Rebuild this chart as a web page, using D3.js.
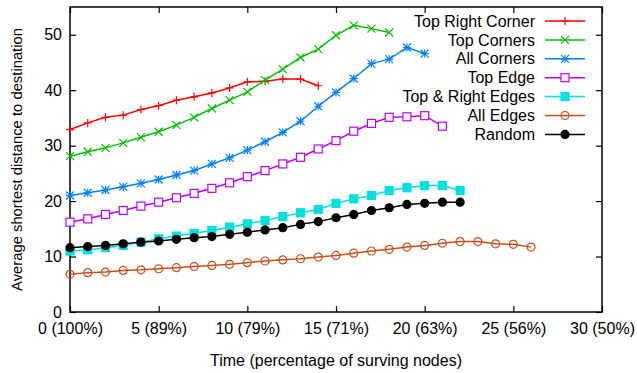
<!DOCTYPE html>
<html>
<head>
<meta charset="utf-8">
<script src="https://cdn.jsdelivr.net/npm/d3@7"></script>
<style>
  body { margin: 0; background: #fff; }
  svg text { font-family: "Liberation Sans", Arial, sans-serif; fill: #000; }
</style>
</head>
<body>
<div id="chart"></div>
<script>
const width = 637;
const height = 373;

// valori (x = 0, 1, 2, ...)
const topRightCorner = [32.9, 34.1, 35.1, 35.5, 36.5, 37.2, 38.2, 38.8, 39.5, 40.4, 41.5, 41.6, 42.0, 42.0, 40.8];
const topCorners = [28.1, 28.9, 29.6, 30.5, 31.5, 32.5, 33.7, 35.1, 36.7, 38.2, 39.7, 41.8, 43.8, 45.9, 47.4, 49.9, 51.7, 51.1, 50.4];
const allCorners = [21.0, 21.5, 22.0, 22.6, 23.2, 23.9, 24.7, 25.5, 26.7, 27.8, 29.2, 30.7, 32.4, 34.4, 37.1, 39.6, 42.1, 44.8, 45.6, 47.7, 46.6];
const topEdge = [16.2, 16.8, 17.6, 18.3, 19.1, 19.8, 20.6, 21.4, 22.3, 23.3, 24.4, 25.5, 26.7, 27.9, 29.4, 30.9, 32.6, 34.0, 35.1, 35.2, 35.4, 33.5];
const topRightEdges = [11.0, 11.2, 11.6, 12.0, 12.6, 13.2, 13.7, 14.2, 14.7, 15.3, 15.9, 16.5, 17.2, 17.9, 18.5, 19.6, 20.4, 21.0, 21.9, 22.4, 22.8, 22.8, 21.9];
const allEdges = [6.8, 7.1, 7.2, 7.5, 7.6, 7.8, 8.0, 8.2, 8.4, 8.6, 8.9, 9.2, 9.4, 9.6, 9.9, 10.2, 10.6, 11.0, 11.3, 11.7, 12.0, 12.4, 12.7, 12.7, 12.3, 12.2, 11.7];
const random = [11.6, 11.8, 12.0, 12.3, 12.6, 12.8, 13.1, 13.4, 13.6, 14.0, 14.4, 14.8, 15.2, 15.8, 16.3, 17.0, 17.6, 18.3, 18.8, 19.4, 19.6, 19.8, 19.8];

const xTicks = [0, 5, 10, 15, 20, 25, 30];
const xTickLabels = ["0 (100%)", "5 (89%)", "10 (79%)", "15 (71%)", "20 (63%)", "25 (56%)", "30 (50%)"];
const yTicks = [0, 10, 20, 30, 40, 50];

const series = [
  { name: "Top Right Corner", values: topRightCorner, color: "#ff0000", marker: "plus" },
  { name: "Top Corners", values: topCorners, color: "#00c000", marker: "cross" },
  { name: "All Corners", values: allCorners, color: "#0080ff", marker: "star" },
  { name: "Top Edge", values: topEdge, color: "#c000ff", marker: "square" },
  { name: "Top & Right Edges", values: topRightEdges, color: "#00e0e0", marker: "fsquare" },
  { name: "All Edges", values: allEdges, color: "#c8501a", marker: "circle" },
  { name: "Random", values: random, color: "#000000", marker: "fcircle" }
];

const margin = { top: 7, right: 35, bottom: 61, left: 70 };
const iw = width - margin.left - margin.right;
const ih = height - margin.top - margin.bottom;

const x = d3.scaleLinear().domain([0, 30]).range([0, iw]);
const y = d3.scaleLinear().domain([0, 55]).range([ih, 0]);

const svg = d3.select("#chart").append("svg")
  .attr("width", width)
  .attr("height", height);

const g = svg.append("g").attr("transform", `translate(${margin.left},${margin.top})`);

// tacche interne su tutti i lati
const tick = 6;
const axisB = g.append("g").attr("transform", `translate(0,${ih})`)
  .call(d3.axisBottom(x).tickValues(xTicks).tickSize(-tick).tickPadding(11)
    .tickFormat((d, i) => xTickLabels[i]));
const axisT = g.append("g")
  .call(d3.axisTop(x).tickValues(xTicks).tickSize(-tick).tickFormat(""));
const axisL = g.append("g")
  .call(d3.axisLeft(y).tickValues(yTicks).tickSize(-tick).tickPadding(8));
const axisR = g.append("g").attr("transform", `translate(${iw},0)`)
  .call(d3.axisRight(y).tickValues(yTicks).tickSize(-tick).tickFormat(""));

[axisB, axisT, axisL, axisR].forEach(a => {
  a.select(".domain").remove();
  a.selectAll("line").attr("stroke", "#000").attr("stroke-width", 1.2);
  a.selectAll("text").style("font-size", "16px").attr("fill", "#000");
});

g.append("rect")
  .attr("width", iw).attr("height", ih)
  .attr("fill", "none").attr("stroke", "#000").attr("stroke-width", 1.5);

// simboli stile gnuplot
function drawMarker(sel, type, color) {
  const s = 4;
  if (type === "plus" || type === "star") {
    sel.append("path").attr("d", `M${-s},0H${s}M0,${-s}V${s}`)
      .attr("stroke", color).attr("stroke-width", 1.2).attr("fill", "none");
  }
  if (type === "cross" || type === "star") {
    sel.append("path").attr("d", `M${-s},${-s}L${s},${s}M${-s},${s}L${s},${-s}`)
      .attr("stroke", color).attr("stroke-width", 1.2).attr("fill", "none");
  }
  if (type === "square" || type === "fsquare") {
    sel.append("rect").attr("x", -s).attr("y", -s).attr("width", 2 * s).attr("height", 2 * s)
      .attr("stroke", color).attr("stroke-width", 1.2)
      .attr("fill", type === "fsquare" ? color : "#fff");
  }
  if (type === "circle" || type === "fcircle") {
    sel.append("circle").attr("r", s)
      .attr("stroke", color).attr("stroke-width", 1.2)
      .attr("fill", type === "fcircle" ? color : "none");
  }
}

const line = d3.line().x((d, i) => x(i)).y(d => y(d));

series.forEach(s => {
  g.append("path")
    .datum(s.values)
    .attr("d", line)
    .attr("fill", "none")
    .attr("stroke", s.color)
    .attr("stroke-width", 1.5);
  g.append("g").selectAll("g")
    .data(s.values)
    .join("g")
    .attr("transform", (d, i) => `translate(${x(i)},${y(d)})`)
    .each(function () { drawMarker(d3.select(this), s.marker, s.color); });
});

// legenda
const legend = g.append("g").attr("transform", `translate(${iw - 57},${14})`);
series.forEach((s, i) => {
  const row = legend.append("g").attr("transform", `translate(0,${i * 18.9})`);
  row.append("text").attr("x", -10).attr("dy", "0.35em")
    .attr("text-anchor", "end").style("font-size", "16px").text(s.name);
  row.append("line").attr("x1", 0).attr("x2", 40)
    .attr("stroke", s.color).attr("stroke-width", 1.5);
  drawMarker(row.append("g").attr("transform", "translate(20,0)"), s.marker, s.color);
});

// etichette degli assi
svg.append("text")
  .attr("x", margin.left + iw / 2).attr("y", 366)
  .attr("text-anchor", "middle").style("font-size", "16px")
  .text("Time (percentage of surving nodes)");

svg.append("text")
  .attr("transform", `translate(22,${margin.top + ih / 2}) rotate(-90)`)
  .attr("text-anchor", "middle").style("font-size", "14.8px")
  .text("Average shortest distance to destination");
</script>
</body>
</html>
